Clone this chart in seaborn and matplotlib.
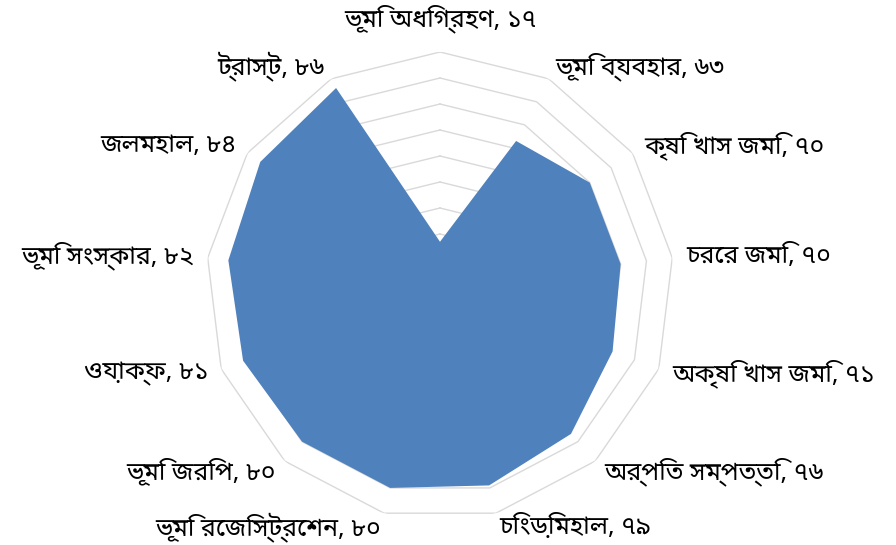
import numpy as np
import matplotlib
matplotlib.use("Agg")
import matplotlib.pyplot as plt
import seaborn as sns

# categories (clockwise from top) and their values
categories = ['ভূমি অধিগ্রহণ', 'ভূমি ব্যবহার', 'কৃষি খাস জমি', 'চরের জমি',
              'অকৃষি খাস জমি', 'অর্পিত সম্পত্তি', 'চিংড়িমহাল', 'ভূমি রেজিস্ট্রেশন',
              'ভূমি জরিপ', 'ওয়াক্ফ', 'ভূমি সংস্কার', 'জলমহাল', 'ট্রাস্ট']
values = [17, 63, 70, 70, 71, 76, 79, 80, 80, 81, 82, 84, 86]
rings = [10, 20, 30, 40, 50, 60, 70, 80, 90]

sns.set_theme(style="white")
plt.rcParams['font.family'] = ['Noto Sans Bengali', 'DejaVu Sans']

bn_digits = str.maketrans('0123456789', '০১২৩৪৫৬৭৮৯')
labels = [c + ', ' + str(v).translate(bn_digits) for c, v in zip(categories, values)]

n = len(categories)
angles = np.arange(n) * 2 * np.pi / n
closed = np.append(angles, angles[0])

fig = plt.figure(figsize=(8.96, 5.45), dpi=100)
ax = fig.add_axes([0.2299, 0.0459, 0.5223, 0.8587], projection='polar')
ax.set_theta_zero_location('N')
ax.set_theta_direction(-1)
ax.set_ylim(0, max(rings))

# polygon gridlines
for r in rings:
    ax.plot(closed, [r] * (n + 1), color='#d9d9d9', lw=1, zorder=1)

ax.fill(closed, np.append(values, values[0]), color='#4f81bd', lw=0, zorder=2)

ax.grid(False)
ax.spines['polar'].set_visible(False)
ax.set_xticks([])
ax.set_yticks([])

# category labels just outside the outer ring vertices
for a, lab in zip(angles, labels):
    s, c = np.sin(a), np.cos(a)
    if abs(s) < 0.05:
        ha, va, pad = 'center', 'bottom', 14
    else:
        ha, va, pad = ('left' if s > 0 else 'right'), 'center', 10
    ax.annotate(lab, xy=(a, max(rings)), xytext=(pad * s, pad * c),
                textcoords='offset points', ha=ha, va=va,
                fontsize=18, color='black', annotation_clip=False)

fig.savefig('out.png', dpi=100)
